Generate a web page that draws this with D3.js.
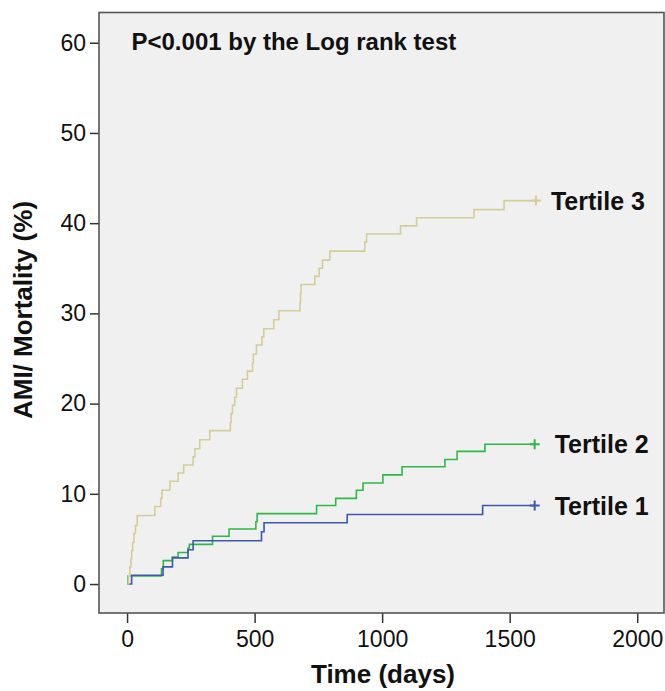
<!DOCTYPE html>
<html>
<head>
<meta charset="utf-8">
<script src="https://cdn.jsdelivr.net/npm/d3@7"></script>
<style>
  html, body { margin: 0; padding: 0; background: #ffffff; }
  svg { display: block; }
  text { font-family: "Liberation Sans", Arial, sans-serif; }
</style>
</head>
<body>
<svg id="chart" width="665" height="691"></svg>
<script>
// ---------------- data ----------------
const xTicks = [0, 500, 1000, 1500, 2000];
const yTicks = [0, 10, 20, 30, 40, 50, 60];

const t1Times  = [0, 18, 141, 178, 239, 259, 527, 537, 863, 1394];
const t1Values = [0, 0.97, 1.9, 2.9, 3.8, 4.8, 5.8, 6.8, 7.7, 8.7];
const t1End = 1598;

const t2Times  = [0, 4, 135, 142, 178, 200, 239, 244, 335, 400, 505, 510, 743, 818, 899, 925, 1003, 1078, 1246, 1294, 1403];
const t2Values = [0, 0.9, 1.7, 2.6, 3.0, 3.5, 4.0, 4.4, 5.3, 6.1, 6.9, 7.8, 8.7, 9.5, 10.4, 11.2, 12.1, 13.0, 13.8, 14.7, 15.5];
const t2End = 1598;

const t3Times  = [0, 6, 11, 15, 18, 22, 27, 33, 40, 109, 132, 137, 168, 200, 222, 259, 266, 285, 324, 405, 408, 413, 422, 429, 452, 472, 492, 495, 507, 529, 536, 575, 595, 678, 680, 682, 736, 753, 766, 795, 932, 939, 1072, 1135, 1360, 1478];
const t3Values = [0, 0.9, 1.9, 2.8, 3.7, 4.6, 5.6, 6.5, 7.6, 8.6, 9.5, 10.4, 11.4, 12.3, 13.2, 14.1, 15.0, 16.0, 17.0, 17.9, 18.9, 19.8, 20.7, 21.7, 22.7, 23.6, 24.5, 25.5, 26.5, 27.4, 28.3, 29.3, 30.3, 31.2, 32.2, 33.2, 34.1, 35.0, 35.9, 36.9, 37.9, 38.8, 39.7, 40.6, 41.5, 42.5];
const t3End = 1603;

const seriesNames = ["Tertile 1", "Tertile 2", "Tertile 3"];
const seriesColors = ["#3E58AC", "#2EB848", "#D3CE97"];

const xTitle = "Time (days)";
const yTitle = "AMI/ Mortality (%)";
const note = "P<0.001 by the Log rank test";

// ---------------- layout ----------------
const frame = { left: 99, right: 664, top: 12.5, bottom: 613 };
const svg = d3.select("#chart");

const x = d3.scaleLinear().domain([-110, 2105]).range([frame.left, frame.right]);
const y = d3.scaleLinear().domain([-3.21, 63.35]).range([frame.bottom, frame.top]);

// plot background
svg.append("rect")
  .attr("x", frame.left).attr("y", frame.top)
  .attr("width", frame.right - frame.left).attr("height", frame.bottom - frame.top)
  .attr("fill", "#f0f0f0");

// curves
const build = (times, values, end) => {
  const pts = times.map((t, i) => [t, values[i]]);
  pts.push([end, values[values.length - 1]]);
  return pts;
};
const series = [
  { name: seriesNames[0], color: seriesColors[0], pts: build(t1Times, t1Values, t1End), labelDx: 20 },
  { name: seriesNames[1], color: seriesColors[1], pts: build(t2Times, t2Values, t2End), labelDx: 20 },
  { name: seriesNames[2], color: seriesColors[2], pts: build(t3Times, t3Values, t3End), labelDx: 15 }
];

const line = d3.line().x(d => x(d[0])).y(d => y(d[1])).curve(d3.curveStepAfter);

const drawOrder = [1, 0, 2];
drawOrder.forEach(i => {
  const s = series[i];
  svg.append("path")
    .attr("d", line(s.pts))
    .attr("fill", "none")
    .attr("stroke", s.color)
    .attr("stroke-width", 1.6);
});

// censor marks and labels
series.forEach(s => {
  const last = s.pts[s.pts.length - 1];
  const cx = x(last[0]), cy = y(last[1]);
  svg.append("path")
    .attr("d", `M${cx - 5},${cy}H${cx + 5}M${cx},${cy - 5}V${cy + 5}`)
    .attr("stroke", s.color)
    .attr("stroke-width", 2)
    .attr("fill", "none");
  svg.append("text")
    .attr("x", cx + s.labelDx)
    .attr("y", cy)
    .attr("dy", "0.36em")
    .attr("font-size", 25)
    .attr("font-weight", "bold")
    .attr("fill", "#111")
    .text(s.name);
});

// axes
const yAxis = svg.append("g")
  .attr("transform", `translate(${frame.left},0)`)
  .call(d3.axisLeft(y).tickValues(yTicks).tickSize(9).tickPadding(4).tickFormat(d3.format("d")));
const xAxis = svg.append("g")
  .attr("transform", `translate(0,${frame.bottom})`)
  .call(d3.axisBottom(x).tickValues(xTicks).tickSize(10).tickPadding(8).tickFormat(d3.format("d")));

[xAxis, yAxis].forEach(g => {
  g.select(".domain").remove();
  g.selectAll(".tick line").attr("stroke", "#333").attr("stroke-width", 1.5);
  g.selectAll(".tick text")
    .attr("font-size", 23)
    .attr("fill", "#111")
    .style("font-family", "'Liberation Sans', Arial, sans-serif");
});

// frame
svg.append("rect")
  .attr("x", frame.left).attr("y", frame.top)
  .attr("width", frame.right - frame.left).attr("height", frame.bottom - frame.top)
  .attr("fill", "none")
  .attr("stroke", "#555")
  .attr("stroke-width", 1.6);

// annotation
svg.append("text")
  .attr("x", 131.5).attr("y", 49.5)
  .attr("font-size", 24)
  .attr("font-weight", "bold")
  .attr("fill", "#111")
  .text(note);

// axis titles
svg.append("text")
  .attr("x", 383).attr("y", 683)
  .attr("text-anchor", "middle")
  .attr("font-size", 26)
  .attr("font-weight", "bold")
  .attr("fill", "#111")
  .text(xTitle);

svg.append("text")
  .attr("transform", "translate(32,310) rotate(-90)")
  .attr("text-anchor", "middle")
  .attr("font-size", 26)
  .attr("font-weight", "bold")
  .attr("fill", "#111")
  .text(yTitle);
</script>
</body>
</html>
